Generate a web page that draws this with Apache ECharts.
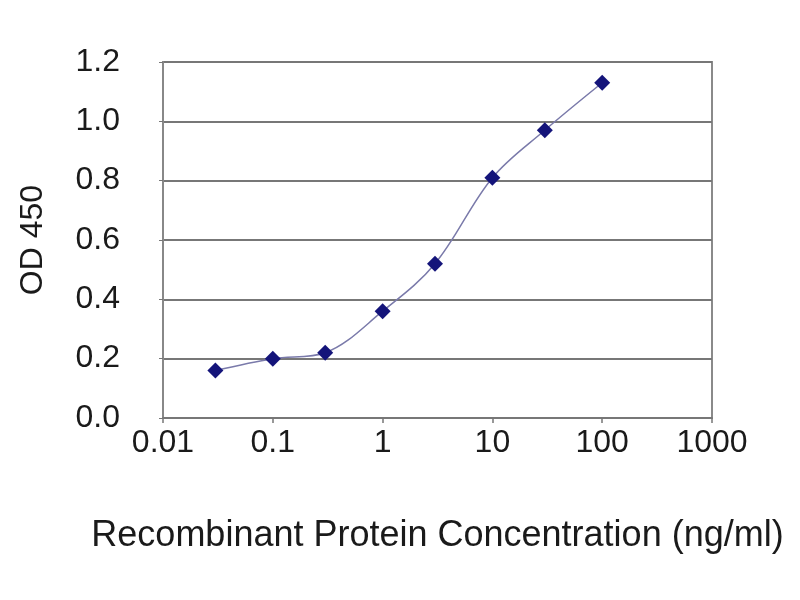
<!DOCTYPE html>
<html>
<head>
<meta charset="utf-8">
<script src="https://cdn.jsdelivr.net/npm/echarts@6/dist/echarts.min.js"></script>
<style>html,body{margin:0;padding:0;background:#fff;}#c{width:800px;height:600px;}</style>
</head>
<body>
<div id="c"></div>
<script>
const concentrations = [0.03, 0.1, 0.3, 1, 3, 10, 30, 100];
const od450 = [0.16, 0.20, 0.22, 0.36, 0.52, 0.81, 0.97, 1.13];
const xTickLabels = ['0.01', '0.1', '1', '10', '100', '1000'];
const yTickLabels = ['0.0', '0.2', '0.4', '0.6', '0.8', '1.0', '1.2'];
const xTitle = 'Recombinant Protein Concentration (ng/ml)';
const yTitle = 'OD 450';

const chart = echarts.init(document.getElementById('c'), null, {renderer: 'canvas'});
const font = 'Liberation Sans, Arial, sans-serif';
chart.setOption({
  backgroundColor: '#ffffff',
  animation: false,
  grid: {
    left: 163, right: 88, top: 62, bottom: 182,
    show: true, borderColor: '#8a8a8a', borderWidth: 2, backgroundColor: 'transparent'
  },
  xAxis: {
    type: 'log', logBase: 10, min: 0.01, max: 1000,
    name: xTitle, nameLocation: 'middle', nameGap: 100,
    nameTextStyle: {fontFamily: font, fontSize: 36, color: '#1a1a1a'},
    axisLine: {show: true, lineStyle: {color: '#777', width: 2}},
    axisTick: {show: true, length: 5, lineStyle: {color: '#777', width: 1.5}},
    minorTick: {show: false},
    splitLine: {show: false},
    axisLabel: {
      fontFamily: font, fontSize: 32, color: '#1a1a1a', margin: 9,
      formatter: (v, i) => xTickLabels[i]
    }
  },
  yAxis: {
    type: 'value', min: 0, max: 1.2, interval: 0.2,
    name: yTitle, nameLocation: 'middle', nameGap: 114, nameRotate: 90,
    nameTextStyle: {fontFamily: font, fontSize: 32, color: '#1a1a1a'},
    axisLine: {show: true, lineStyle: {color: '#888', width: 2}},
    axisTick: {show: true, length: 4, lineStyle: {color: '#777'}},
    splitLine: {show: true, lineStyle: {color: '#777', width: 2}},
    axisLabel: {
      fontFamily: font, fontSize: 32, color: '#1a1a1a', margin: 43,
      formatter: (v, i) => yTickLabels[i]
    }
  },
  series: [{
    type: 'line',
    data: concentrations.map((c, i) => [c, od450[i]]),
    smooth: 0.35,
    symbol: 'diamond', symbolSize: 16,
    lineStyle: {color: '#7a7aaa', width: 1.5},
    itemStyle: {color: '#14147a'}
  }]
});
</script>
</body>
</html>
